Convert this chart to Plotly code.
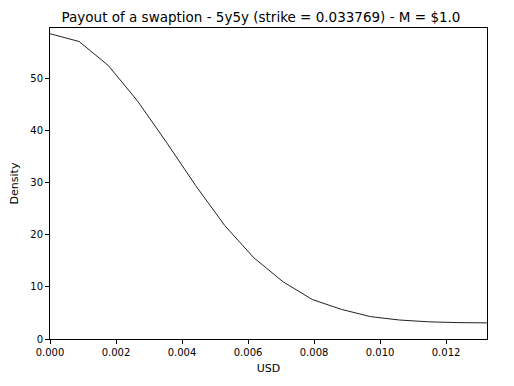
import plotly.graph_objects as go

# Payout distribution
usd = [0.0, 0.000883, 0.001765, 0.002648, 0.003531, 0.004413, 0.005296, 0.006179,
       0.007061, 0.007944, 0.008827, 0.009709, 0.010592, 0.011475, 0.012357, 0.01324]
density = [58.7, 57.2, 52.6, 45.8, 37.8, 29.5, 21.8, 15.6,
           11.0, 7.6, 5.7, 4.3, 3.65, 3.3, 3.15, 3.1]

fig = go.Figure()
fig.add_trace(go.Scatter(x=usd, y=density, mode="lines",
                         line=dict(color="#222222", width=1), showlegend=False))

axis_style = dict(showline=True, linecolor="black", linewidth=1, mirror=True,
                  ticks="outside", ticklen=4, tickcolor="black", showgrid=False,
                  zeroline=False, automargin=False,
                  tickfont=dict(size=10, color="black"))

# page body adds an 8px margin, so the figure is a bit smaller than the window
fig.update_layout(
    width=506, height=378,
    margin=dict(l=42, r=27, t=20, b=47),
    plot_bgcolor="white", paper_bgcolor="white",
    font=dict(family="DejaVu Sans", color="black"),
    title=dict(text="Payout of a swaption - 5y5y (strike = 0.033769) - M = $1.0",
               x=0.5, xanchor="center", y=0.976, yanchor="middle",
               font=dict(size=13.5)),
    xaxis=dict(range=[0, 0.01324], dtick=0.002, tickformat=".3f",
               title=dict(text="USD", font=dict(size=11), standoff=7), **axis_style),
    yaxis=dict(range=[0, 59.8], dtick=10,
               title=dict(text="Density", font=dict(size=11), standoff=9), **axis_style),
)

fig.write_html("out.html")
